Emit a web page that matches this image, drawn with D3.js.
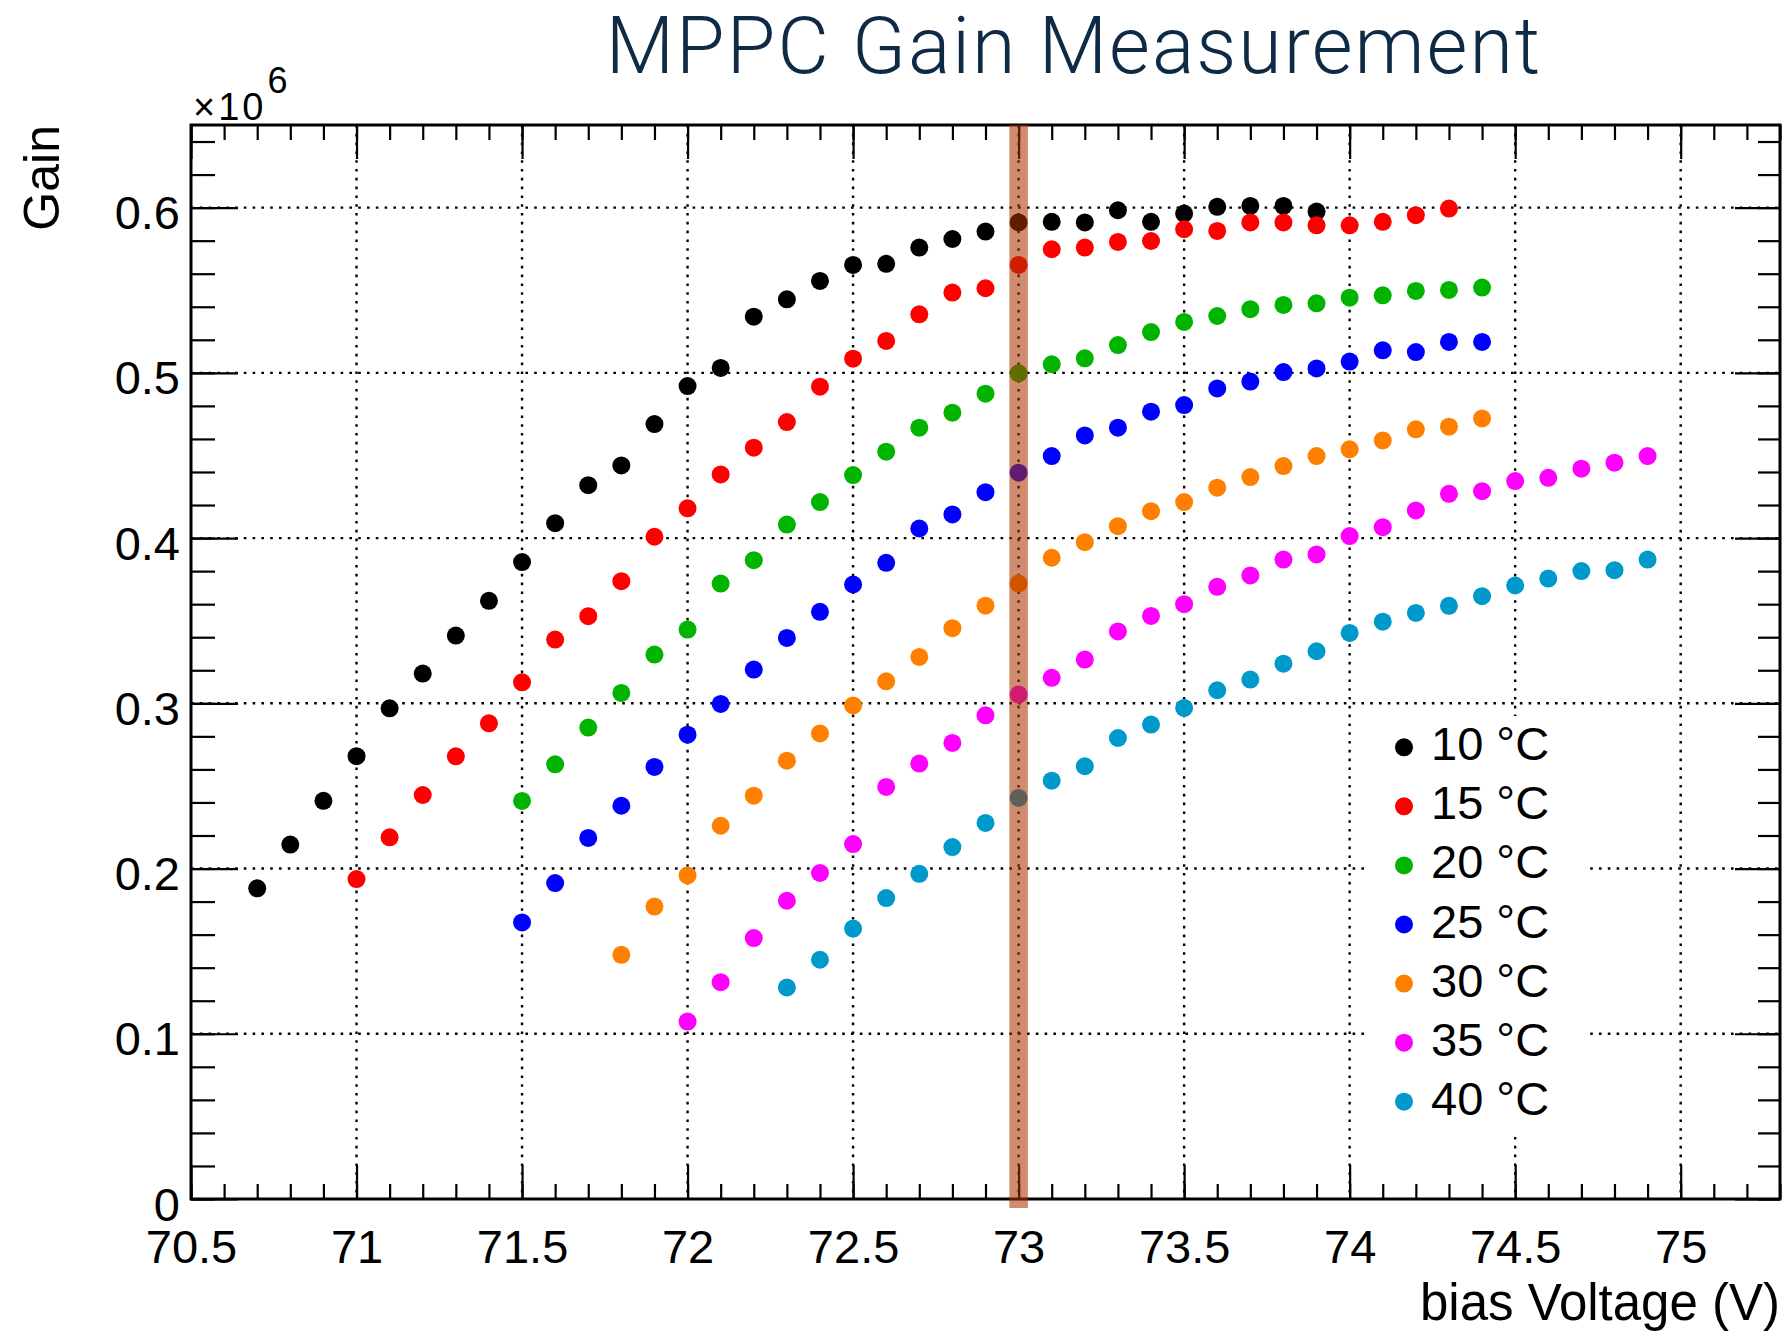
<!DOCTYPE html>
<html>
<head>
<meta charset="utf-8">
<script src="https://cdn.jsdelivr.net/npm/d3@7"></script>
<style>
  body { margin: 0; background: #fff; }
  svg { display: block; }
  text { font-family: "Liberation Sans", Arial, Helvetica, sans-serif; }
</style>
</head>
<body>
<svg id="chart" width="1787" height="1331"></svg>
<script>
// ---- measured MPPC gain (x10^6) versus bias voltage (V), one series per temperature ----
const temperatures = ["10 °C", "15 °C", "20 °C", "25 °C", "30 °C", "35 °C", "40 °C"];
const seriesColors = ["#000000", "#ff0000", "#00b400", "#0000ff", "#ff8000", "#ff00ff", "#0099cc"];

const volts10 = [70.7, 70.8, 70.9, 71.0, 71.1, 71.2, 71.3, 71.4, 71.5, 71.6, 71.7, 71.8, 71.9, 72.0, 72.1, 72.2, 72.3,
                 72.4, 72.5, 72.6, 72.7, 72.8, 72.9, 73.0, 73.1, 73.2, 73.3, 73.4, 73.5, 73.6, 73.7, 73.8, 73.9];
const gain10  = [0.188, 0.2145, 0.241, 0.268, 0.297, 0.318, 0.341, 0.362, 0.3855, 0.409, 0.432, 0.444, 0.469, 0.492, 0.503,
                 0.534, 0.5445, 0.5556, 0.5653, 0.566, 0.5758, 0.581, 0.5855, 0.591, 0.5914, 0.591, 0.5984, 0.5914, 0.5964,
                 0.6005, 0.601, 0.601, 0.5976];

const volts15 = [71.0, 71.1, 71.2, 71.3, 71.4, 71.5, 71.6, 71.7, 71.8, 71.9, 72.0, 72.1, 72.2, 72.3, 72.4, 72.5, 72.6,
                 72.7, 72.8, 72.9, 73.0, 73.1, 73.2, 73.3, 73.4, 73.5, 73.6, 73.7, 73.8, 73.9, 74.0, 74.1, 74.2, 74.3];
const gain15  = [0.1936, 0.2189, 0.2445, 0.2679, 0.2879, 0.3127, 0.3386, 0.3527, 0.3739, 0.4008, 0.418, 0.4385, 0.4547,
                 0.4702, 0.4916, 0.5086, 0.5193, 0.5354, 0.5486, 0.5512, 0.5653, 0.5748, 0.5758, 0.5792, 0.5798, 0.5869,
                 0.5859, 0.591, 0.591, 0.5893, 0.5893, 0.5914, 0.5954, 0.5994];

const volts20 = [71.5, 71.6, 71.7, 71.8, 71.9, 72.0, 72.1, 72.2, 72.3, 72.4, 72.5, 72.6, 72.7, 72.8, 72.9, 73.0, 73.1,
                 73.2, 73.3, 73.4, 73.5, 73.6, 73.7, 73.8, 73.9, 74.0, 74.1, 74.2, 74.3, 74.4];
const gain20  = [0.2409, 0.2631, 0.2853, 0.3063, 0.3295, 0.3446, 0.3725, 0.3866, 0.4082, 0.4218, 0.4381, 0.4523, 0.4668,
                 0.4759, 0.4874, 0.4997, 0.5052, 0.5088, 0.5168, 0.5247, 0.5308, 0.5344, 0.5385, 0.5411, 0.5421, 0.5455,
                 0.5469, 0.5496, 0.5502, 0.5516];

const volts25 = [71.5, 71.6, 71.7, 71.8, 71.9, 72.0, 72.1, 72.2, 72.3, 72.4, 72.5, 72.6, 72.7, 72.8, 72.9, 73.0, 73.1,
                 73.2, 73.3, 73.4, 73.5, 73.6, 73.7, 73.8, 73.9, 74.0, 74.1, 74.2, 74.3, 74.4];
const gain25  = [0.1674, 0.1912, 0.2185, 0.238, 0.2615, 0.281, 0.2996, 0.3204, 0.3396, 0.3554, 0.3719, 0.385, 0.4058,
                 0.4143, 0.4278, 0.4396, 0.4496, 0.4621, 0.4668, 0.4765, 0.4805, 0.4906, 0.4947, 0.5005, 0.5027, 0.5068,
                 0.5136, 0.5126, 0.5187, 0.5187];

const volts30 = [71.8, 71.9, 72.0, 72.1, 72.2, 72.3, 72.4, 72.5, 72.6, 72.7, 72.8, 72.9, 73.0, 73.1, 73.2, 73.3, 73.4,
                 73.5, 73.6, 73.7, 73.8, 73.9, 74.0, 74.1, 74.2, 74.3, 74.4];
const gain30  = [0.1478, 0.177, 0.1958, 0.2259, 0.2441, 0.2653, 0.2818, 0.2987, 0.3133, 0.3281, 0.3455, 0.3591, 0.3725,
                 0.3881, 0.3975, 0.4072, 0.4163, 0.4218, 0.4305, 0.4369, 0.4436, 0.4496, 0.4537, 0.4591, 0.4658, 0.4674,
                 0.4724];

const volts35 = [72.0, 72.1, 72.2, 72.3, 72.4, 72.5, 72.6, 72.7, 72.8, 72.9, 73.0, 73.1, 73.2, 73.3, 73.4, 73.5, 73.6,
                 73.7, 73.8, 73.9, 74.0, 74.1, 74.2, 74.3, 74.4, 74.5, 74.6, 74.7, 74.8, 74.9];
const gain35  = [0.1074, 0.1312, 0.1579, 0.1805, 0.1973, 0.2148, 0.2494, 0.2635, 0.276, 0.2927, 0.3053, 0.3154, 0.3265,
                 0.3435, 0.3529, 0.36, 0.3705, 0.3774, 0.387, 0.3901, 0.4012, 0.4066, 0.4167, 0.4268, 0.4284, 0.4345,
                 0.4365, 0.442, 0.4456, 0.4496];

const volts40 = [72.3, 72.4, 72.5, 72.6, 72.7, 72.8, 72.9, 73.0, 73.1, 73.2, 73.3, 73.4, 73.5, 73.6, 73.7, 73.8, 73.9,
                 74.0, 74.1, 74.2, 74.3, 74.4, 74.5, 74.6, 74.7, 74.8, 74.9];
const gain40  = [0.128, 0.1448, 0.1637, 0.1821, 0.1968, 0.213, 0.2276, 0.2427, 0.2532, 0.2619, 0.279, 0.2871, 0.2972,
                 0.3079, 0.3144, 0.324, 0.3315, 0.3426, 0.3494, 0.3547, 0.359, 0.3648, 0.3713, 0.3755, 0.38, 0.3806,
                 0.387];

// axis ticks and labels
const xTickValues = [70.5, 71, 71.5, 72, 72.5, 73, 73.5, 74, 74.5, 75];
const xTickLabels = ["70.5", "71", "71.5", "72", "72.5", "73", "73.5", "74", "74.5", "75"];
const yTickValues = [0, 0.1, 0.2, 0.3, 0.4, 0.5, 0.6];
const yTickLabels = ["0", "0.1", "0.2", "0.3", "0.4", "0.5", "0.6"];

// operating voltage highlighted by the shaded band
const operatingVoltage = 73.0;
const bandHalfWidth = 0.028;

const series = [
  { label: temperatures[0], color: seriesColors[0], volts: volts10, gain: gain10 },
  { label: temperatures[1], color: seriesColors[1], volts: volts15, gain: gain15 },
  { label: temperatures[2], color: seriesColors[2], volts: volts20, gain: gain20 },
  { label: temperatures[3], color: seriesColors[3], volts: volts25, gain: gain25 },
  { label: temperatures[4], color: seriesColors[4], volts: volts30, gain: gain30 },
  { label: temperatures[5], color: seriesColors[5], volts: volts35, gain: gain35 },
  { label: temperatures[6], color: seriesColors[6], volts: volts40, gain: gain40 }
];

// ---- layout ----
const frame = { left: 191, right: 1780, top: 125, bottom: 1199 };
const svg = d3.select("#chart");

const x = d3.scaleLinear().domain([70.5, 75.3]).range([frame.left, frame.right]);
const y = d3.scaleLinear().domain([0, 0.65]).range([frame.bottom, frame.top]);

const xMinor = d3.range(0, 49).map(i => +(70.5 + i * 0.1).toFixed(2));
const yMinor = d3.range(0, 33).map(i => +(i * 0.02).toFixed(2));

// ---- dotted grid ----
const grid = svg.append("g")
  .attr("stroke", "#000")
  .attr("stroke-width", 2.4)
  .attr("stroke-dasharray", "2.6 6.2");

grid.selectAll("line.gx")
  .data(xTickValues.filter(v => v > 70.5))
  .join("line")
  .attr("x1", d => x(d)).attr("x2", d => x(d))
  .attr("y1", frame.top).attr("y2", frame.bottom);

grid.selectAll("line.gy")
  .data(yTickValues.filter(v => v > 0))
  .join("line")
  .attr("x1", frame.left).attr("x2", frame.right)
  .attr("y1", d => y(d)).attr("y2", d => y(d));

// ---- inward ticks on all four sides ----
function ticks(axis, size, values, transform) {
  const g = svg.append("g").attr("transform", transform)
    .call(axis.tickValues(values).tickSizeInner(-size).tickSizeOuter(0).tickFormat(""));
  g.select(".domain").remove();
  g.selectAll("line").attr("stroke", "#000").attr("stroke-width", 2.2);
  return g;
}
ticks(d3.axisBottom(x), 15, xMinor, `translate(0,${frame.bottom})`);
ticks(d3.axisTop(x), 15, xMinor, `translate(0,${frame.top})`);
ticks(d3.axisBottom(x), 34, xTickValues, `translate(0,${frame.bottom})`);
ticks(d3.axisTop(x), 34, xTickValues, `translate(0,${frame.top})`);
ticks(d3.axisLeft(y), 24, yMinor, `translate(${frame.left},0)`);
ticks(d3.axisRight(y), 22, yMinor, `translate(${frame.right},0)`);
ticks(d3.axisLeft(y), 47, yTickValues, `translate(${frame.left},0)`);
ticks(d3.axisRight(y), 45, yTickValues, `translate(${frame.right},0)`);

// ---- tick labels ----
const xLabels = svg.append("g")
  .attr("transform", `translate(0,${frame.bottom})`)
  .call(d3.axisBottom(x).tickValues(xTickValues).tickSize(0).tickFormat((d, i) => xTickLabels[i]));
xLabels.select(".domain").remove();
xLabels.attr("font-size", null).attr("font-family", null);
xLabels.selectAll("text")
  .attr("y", 64).attr("dy", null)
  .attr("font-size", 47).attr("fill", "#000");

const yLabels = svg.append("g")
  .attr("transform", `translate(${frame.left},0)`)
  .call(d3.axisLeft(y).tickValues(yTickValues).tickSize(0).tickFormat((d, i) => yTickLabels[i]));
yLabels.select(".domain").remove();
yLabels.attr("font-size", null).attr("font-family", null);
yLabels.selectAll("text")
  .attr("x", -11).attr("y", 21).attr("dy", null)
  .attr("font-size", 47).attr("fill", "#000");

// ---- frame ----
svg.append("rect")
  .attr("x", frame.left).attr("y", frame.top)
  .attr("width", frame.right - frame.left).attr("height", frame.bottom - frame.top)
  .attr("fill", "none").attr("stroke", "#000").attr("stroke-width", 3);

// ---- data points ----
series.forEach(s => {
  svg.append("g").attr("fill", s.color)
    .selectAll("circle")
    .data(d3.zip(s.volts, s.gain))
    .join("circle")
    .attr("cx", d => x(d[0]))
    .attr("cy", d => y(d[1]))
    .attr("r", 9);
});

// ---- legend ----
const legend = svg.append("g");
legend.append("rect")
  .attr("x", 1370).attr("y", 716).attr("width", 217).attr("height", 417)
  .attr("fill", "#fff");
const rows = legend.selectAll("g.row")
  .data(series)
  .join("g")
  .attr("transform", (d, i) => `translate(1404,${747.3 + i * 59.07})`);
rows.append("circle").attr("r", 9).attr("fill", d => d.color);
rows.append("text")
  .attr("x", 27).attr("y", 13)
  .attr("font-size", 47).attr("fill", "#000")
  .text(d => d.label);

// ---- highlighted operating voltage ----
svg.append("rect")
  .attr("x", x(operatingVoltage - bandHalfWidth))
  .attr("width", x(operatingVoltage + bandHalfWidth) - x(operatingVoltage - bandHalfWidth))
  .attr("y", frame.top)
  .attr("height", frame.bottom + 9 - frame.top)
  .attr("fill", "rgb(172,50,0)")
  .attr("fill-opacity", 0.56);

// ---- titles ----
svg.append("text")
  .attr("x", 1074).attr("y", 73)
  .attr("text-anchor", "middle")
  .attr("font-size", 79)
  .attr("letter-spacing", 2)
  .style("font-family", "Roboto, 'Liberation Sans', sans-serif")
  .attr("font-weight", 300)
  .attr("fill", "#0f2a45")
  .text("MPPC Gain Measurement");

svg.append("text")
  .attr("transform", "translate(59,125) rotate(-90)")
  .attr("text-anchor", "end")
  .attr("font-size", 50)
  .attr("fill", "#000")
  .text("Gain");

svg.append("text")
  .attr("x", frame.right).attr("y", 1320)
  .attr("text-anchor", "end")
  .attr("font-size", 51)
  .attr("fill", "#000")
  .text("bias Voltage (V)");

const expo = svg.append("text")
  .attr("x", 193).attr("y", 120)
  .attr("font-size", 38)
  .attr("fill", "#000");
expo.append("tspan").attr("letter-spacing", 3).text("×10");
expo.append("tspan").attr("y", 93).attr("dx", 1).attr("font-size", 36).text("6");
</script>
</body>
</html>
